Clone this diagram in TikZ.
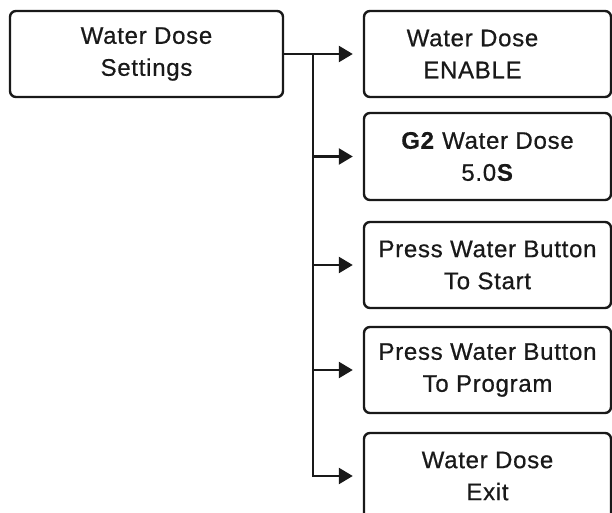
\documentclass[tikz,border=0pt]{standalone}
\usepackage{fontspec}
\setmainfont{Liberation Sans}[LetterSpace=3, FakeBold=0.6]
\usetikzlibrary{arrows.meta}

\begin{document}
\begin{tikzpicture}[x=1pt,y=1pt]
\tikzstyle{every node}+=[inner sep=0pt]
\tikzstyle{menubox}=[draw=black!90, line width=2.4pt, rounded corners=6pt,
  align=center, font=\fontsize{24}{32}\selectfont, text=black!90]
\tikzstyle{branch}=[draw=black!90, line width=2.4pt,
  -{Triangle[length=14pt,width=16pt]}, shorten >=10pt]
\useasboundingbox (0,0) rectangle (612,-512);
% menu entry
\node [menubox, minimum width=273pt, minimum height=86pt] (settings) at (146.5,-54) {Water Dose\\Settings};
% sub menu
\node [menubox, minimum width=247pt, minimum height=86pt] (enable) at (487.5,-54) {Water Dose\hspace*{30pt}\\ENABLE\hspace*{30pt}};
\node [menubox, minimum width=247pt, minimum height=87pt] (dose) at (487.5,-156.5) {\textbf{G2} Water Dose\\5.0\textbf{S}};
\node [menubox, minimum width=247pt, minimum height=86pt] (start) at (487.5,-265) {Press Water Button\\To Start};
\node [menubox, minimum width=247pt, minimum height=86pt] (program) at (487.5,-370) {Press Water Button\\To Program};
\node [menubox, minimum width=247pt, minimum height=86pt] (exit) at (487.5,-476) {Water Dose\\Exit};
% connectors
\coordinate (split) at (313,-54);
\draw [branch] (settings.east) -- (enable.west);
\draw [branch] (split) |- (dose.west);
\draw [branch] (split) |- (start.west);
\draw [branch] (split) |- (program.west);
\draw [branch] (split) |- (exit.west);
\end{tikzpicture}
\end{document}
